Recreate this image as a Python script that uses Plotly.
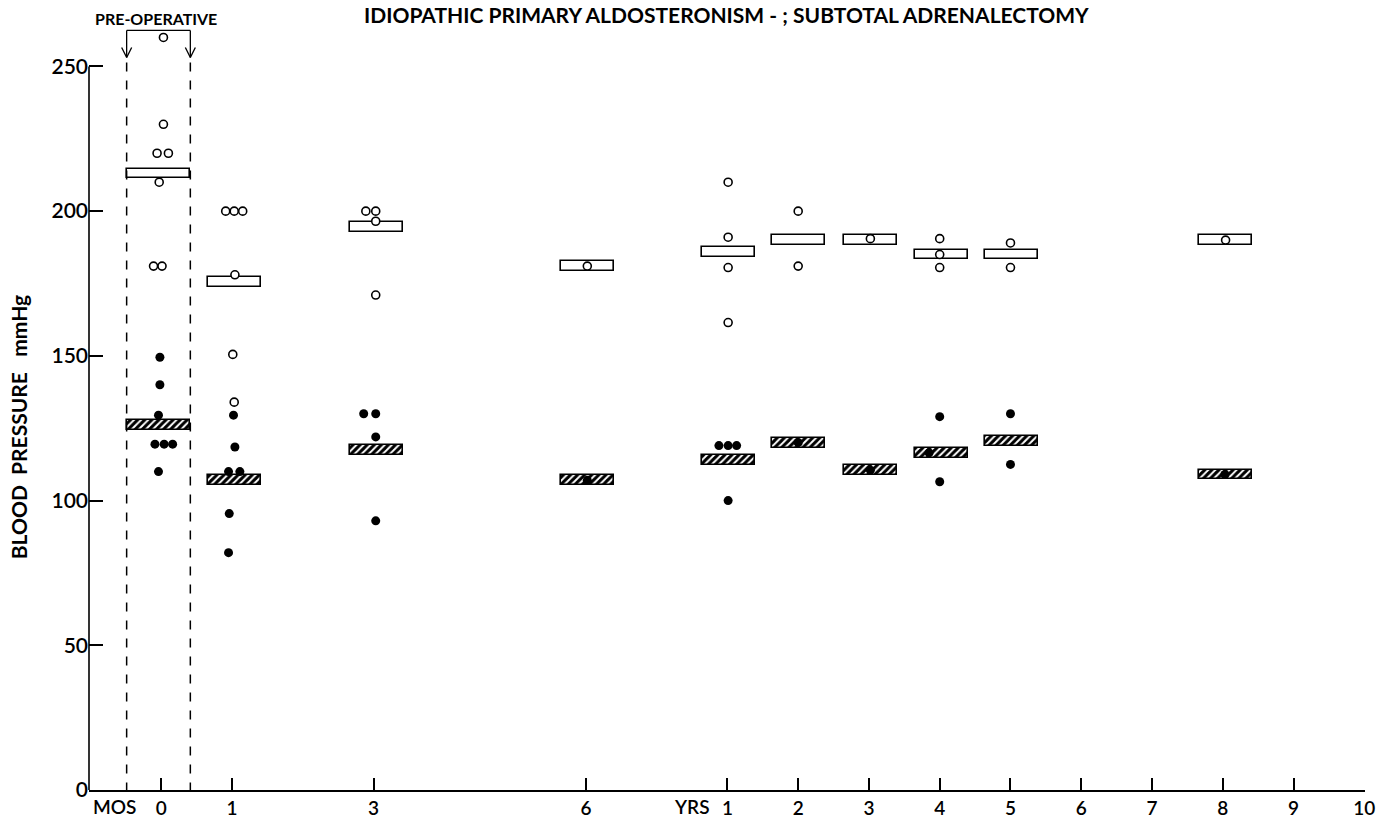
import plotly.graph_objects as go

# ---------------- data ----------------
# x positions on a compressed time scale: months 0,1,3,6 -> 0,1,3,6 ; years n -> 7+n
tick_vals = [0, 1, 3, 6, 8, 9, 10, 11, 12, 13, 14, 15, 16, 17]
tick_text = ["0", "1", "3", "6", "1", "2", "3", "4", "5", "6", "7", "8", "9", "10"]
y_ticks = [0, 50, 100, 150, 200, 250]

# individual systolic readings (open circles)
sys_x = [0.03, 0.03, -0.06, 0.10, -0.03, -0.11, 0.01,
         0.91, 1.03, 1.15, 1.04, 1.01, 1.03,
         2.89, 3.03, 3.03, 3.03,
         6.02,
         8.01, 8.01, 8.01, 8.01,
         9.0, 9.0,
         10.02,
         11.0, 11.0, 11.0,
         12.0, 12.0,
         15.04]
sys_y = [260, 230, 220, 220, 210, 181, 181,
         200, 200, 200, 178, 150.5, 134,
         200, 200, 196.5, 171,
         181,
         210, 191, 180.5, 161.5,
         200, 181,
         190.5,
         190.5, 185, 180.5,
         189, 180.5,
         190]

# individual diastolic readings (filled dots)
dia_x = [-0.02, -0.02, -0.04, -0.09, 0.04, 0.16, -0.04,
         1.02, 1.04, 0.95, 1.11, 0.96, 0.95,
         2.86, 3.03, 3.03, 3.03,
         6.02,
         7.88, 8.01, 8.13, 8.01,
         9.0,
         10.02,
         11.0, 10.85, 11.0,
         12.0, 12.0,
         15.03]
dia_y = [149.5, 140, 129.5, 119.5, 119.5, 119.5, 110,
         129.5, 118.5, 110, 110, 95.5, 82,
         130, 130, 122, 93,
         107,
         119, 119, 119, 100,
         120,
         110.5,
         129, 116.5, 106.5,
         130, 112.5,
         109]

# group means (boxes)
mean_x = [-0.04, 1.03, 3.04, 6.02, 8.02, 9.01, 10.02, 11.02, 12.02, 15.04]
sys_mean = [213, 175.5, 194.5, 181, 186, 190, 190, 185, 185, 190]
dia_mean = [126, 107, 117.5, 107, 114, 120, 110.5, 116.5, 120.5, 109]

title_text = "IDIOPATHIC PRIMARY ALDOSTERONISM - ; SUBTOTAL ADRENALECTOMY"

# ---------------- styling ----------------
FONT = "Lato"
BOX_H = 3.4
box_w = [0.9 if x < 0.5 else 0.75 for x in mean_x]
X_RANGE = [-1.022, 17.01]
Y_RANGE = [0, 265]
W, H = 1376, 819
ML, MR, MB = 89, 11, 29
PX_PER_Y = 2.896
PH = (Y_RANGE[1] - Y_RANGE[0]) * PX_PER_Y
MT = H - MB - PH
PW = W - ML - MR


def px_to_paper_x(px):
    return (px - ML) / PW


def u_to_paper_x(u):
    return (u - X_RANGE[0]) / (X_RANGE[1] - X_RANGE[0])


def py_to_paper_y(py):
    return (H - MB - py) / PH


fig = go.Figure()

# open (systolic) mean boxes
fig.add_trace(go.Bar(
    x=mean_x, y=[BOX_H] * len(mean_x), base=[m - BOX_H / 2 for m in sys_mean],
    width=box_w,
    marker=dict(color="white", line=dict(color="black", width=1.6)),
    hoverinfo="skip", showlegend=False))

# hatched (diastolic) mean boxes
fig.add_trace(go.Bar(
    x=mean_x, y=[BOX_H] * len(mean_x), base=[m - BOX_H / 2 for m in dia_mean],
    width=box_w,
    marker=dict(color="white", line=dict(color="black", width=1.6),
                pattern=dict(shape="/", fgcolor="black", bgcolor="white",
                             size=5, solidity=0.6, fillmode="replace")),
    hoverinfo="skip", showlegend=False))

fig.add_trace(go.Scatter(
    x=sys_x, y=sys_y, mode="markers", cliponaxis=False,
    marker=dict(symbol="circle", size=8, color="white",
                line=dict(color="black", width=1.6)),
    hoverinfo="skip", showlegend=False))

fig.add_trace(go.Scatter(
    x=dia_x, y=dia_y, mode="markers", cliponaxis=False,
    marker=dict(symbol="circle", size=9, color="black",
                line=dict(color="black", width=0)),
    hoverinfo="skip", showlegend=False))

# ---------------- axis line (stops at 250) ----------------
shapes = [dict(type="line", xref="paper", yref="y", x0=0, x1=0,
               y0=Y_RANGE[0], y1=y_ticks[-1], line=dict(color="black", width=1.6))]

# ---------------- pre-operative bracket ----------------
left_u, right_u = -0.49, 0.41
lx, rx = u_to_paper_x(left_u), u_to_paper_x(right_u)
y_top = py_to_paper_y(30)
y_tip = py_to_paper_y(57)
y_dash_top = py_to_paper_y(62)
y_bottom = py_to_paper_y(790)
dxp = 5 / PW
dyp = 10 / PH
for xx in (lx, rx):
    shapes.append(dict(type="line", xref="paper", yref="paper", x0=xx, x1=xx,
                       y0=y_dash_top, y1=y_bottom,
                       line=dict(color="black", width=1.5, dash="dash")))
    shapes.append(dict(type="line", xref="paper", yref="paper", x0=xx, x1=xx,
                       y0=y_top, y1=y_tip, line=dict(color="black", width=1.3)))
    shapes.append(dict(type="line", xref="paper", yref="paper", x0=xx - dxp, x1=xx,
                       y0=y_tip + dyp, y1=y_tip, line=dict(color="black", width=1.3)))
    shapes.append(dict(type="line", xref="paper", yref="paper", x0=xx + dxp, x1=xx,
                       y0=y_tip + dyp, y1=y_tip, line=dict(color="black", width=1.3)))
shapes.append(dict(type="line", xref="paper", yref="paper", x0=lx, x1=rx,
                   y0=y_top, y1=y_top, line=dict(color="black", width=1.3)))

annotations = [
    dict(text="<b>PRE-OPERATIVE</b>", xref="paper", yref="paper",
         x=px_to_paper_x(156), y=py_to_paper_y(18), showarrow=False,
         xanchor="center", yanchor="middle",
         font=dict(family=FONT, size=16, color="black")),
    dict(text="<b>" + title_text + "</b>", xref="paper", yref="paper",
         x=px_to_paper_x(726), y=py_to_paper_y(14), showarrow=False,
         xanchor="center", yanchor="middle",
         font=dict(family=FONT, size=21, color="black")),
    dict(text="<b>BLOOD  PRESSURE   mmHg</b>", xref="paper", yref="paper",
         x=px_to_paper_x(18), y=py_to_paper_y(427), showarrow=False,
         textangle=-90, xanchor="center", yanchor="middle",
         font=dict(family=FONT, size=21, color="black")),
    dict(text="MOS", xref="paper", yref="paper",
         x=u_to_paper_x(-0.66), y=py_to_paper_y(807), showarrow=False,
         xanchor="center", yanchor="middle",
         font=dict(family=FONT, size=19, color="black", weight=600)),
    dict(text="YRS", xref="paper", yref="paper",
         x=u_to_paper_x(7.5), y=py_to_paper_y(807), showarrow=False,
         xanchor="center", yanchor="middle",
         font=dict(family=FONT, size=19, color="black", weight=600)),
]

fig.update_layout(
    width=W, height=H,
    margin=dict(l=ML, r=MR, t=MT, b=MB, autoexpand=False),
    plot_bgcolor="white", paper_bgcolor="white",
    barmode="overlay", bargap=0,
    shapes=shapes, annotations=annotations,
    xaxis=dict(range=X_RANGE, tickmode="array", tickvals=tick_vals, ticktext=tick_text,
               showgrid=False, zeroline=False, showline=True, linecolor="black",
               linewidth=1.6, ticks="inside", ticklen=12, tickwidth=1.5,
               tickcolor="black", automargin=False,
               tickfont=dict(family=FONT, size=19, color="black", weight=600)),
    yaxis=dict(range=Y_RANGE, tickmode="array", tickvals=y_ticks,
               showgrid=False, zeroline=False, showline=False,
               ticks="inside", ticklen=14, tickwidth=1.5,
               tickcolor="black", automargin=False,
               tickfont=dict(family=FONT, size=21, color="black", weight=600)),
)

fig.write_html("out.html", config={"displayModeBar": False},
               post_script="document.body.style.margin='0';document.body.style.overflow='hidden';")
